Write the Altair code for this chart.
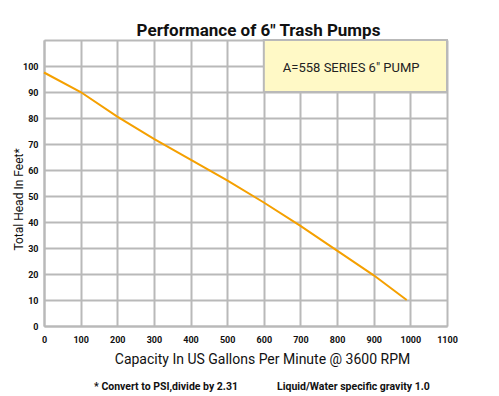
import altair as alt
import pandas as pd

# ---- data ----
gpm = [0, 100, 200, 300, 400, 500, 600, 700, 800, 900, 990]
head = [97.5, 90, 80.5, 72, 64, 56, 47.5, 38.5, 29, 19.5, 10]

x_ticks = list(range(0, 1200, 100))
y_ticks = list(range(0, 120, 10))

legend_x = [600]
legend_x2 = [1100]
legend_y = [90]
legend_y2 = [110]
legend_text = ['A=558 SERIES  6" PUMP']
legend_text_x = [652]
legend_text_y = [99.3]

title_text = 'Performance of 6" Trash Pumps'
x_title = "Capacity In US Gallons Per Minute @ 3600 RPM"
y_title = "Total Head In Feet*"
notes = ["* Convert to PSI,divide by 2.31", "Liquid/Water specific gravity 1.0"]

FONT = "Roboto, Liberation Sans, sans-serif"
GRID = "#b9b9b9"

curve = pd.DataFrame({"gpm": gpm, "head": head})
box = pd.DataFrame({"x": legend_x, "x2": legend_x2, "y": legend_y, "y2": legend_y2,
                    "t": legend_text, "tx": legend_text_x, "ty": legend_text_y})
note_df = pd.DataFrame({"n": [0]})

xscale = alt.Scale(domain=[0, 1100], nice=False, zero=False)
yscale = alt.Scale(domain=[0, 110], nice=False, zero=False)

xaxis = alt.Axis(values=x_ticks, title=x_title, grid=True, ticks=False, format="d",
                 labelFont=FONT, labelFontWeight="bold", labelFontSize=9,
                 labelColor="#111", labelPadding=9,
                 titleFont=FONT, titleFontSize=14, titleFontWeight="normal",
                 titleColor="#111", titleX=218, titleY=26,
                 domainColor=GRID, domainWidth=2, gridColor=GRID, gridWidth=2,
                 gridOpacity=1, labelFlush=False)
yaxis = alt.Axis(values=y_ticks, title=y_title, grid=True, ticks=False, format="d",
                 labelExpr="datum.value > 100 ? '' : datum.label",
                 labelFont=FONT, labelFontWeight="bold", labelFontSize=9,
                 labelColor="#111", labelPadding=6,
                 titleFont=FONT, titleFontSize=12, titleFontWeight="normal",
                 titleColor="#111", titleX=-26, titleY=159, titleAngle=270,
                 titleBaseline="middle",
                 domainColor=GRID, domainWidth=2, gridColor=GRID, gridWidth=2,
                 gridOpacity=1, labelFlush=False)

rect = alt.Chart(box).mark_rect(fill="#fff9c6", stroke=GRID, strokeWidth=2).encode(
    x=alt.X("x:Q", scale=xscale, axis=xaxis), x2="x2:Q",
    y=alt.Y("y:Q", scale=yscale, axis=yaxis), y2="y2:Q",
)

rect_text = alt.Chart(box).mark_text(align="left", baseline="middle", font=FONT,
                                     fontSize=13, color="#222").encode(
    x=alt.X("tx:Q", scale=xscale, axis=xaxis), y=alt.Y("ty:Q", scale=yscale, axis=yaxis),
    text="t:N",
)

line = alt.Chart(curve).mark_line(color="#f5a000", strokeWidth=2).encode(
    x=alt.X("gpm:Q", scale=xscale, axis=xaxis),
    y=alt.Y("head:Q", scale=yscale, axis=yaxis),
)

note1 = alt.Chart(note_df).mark_text(align="center", baseline="middle", font=FONT,
                                     fontSize=10.5, fontWeight="bold", color="#111").encode(
    x=alt.value(122), y=alt.value(347), text=alt.value(notes[0]))
note2 = alt.Chart(note_df).mark_text(align="left", baseline="middle", font=FONT,
                                     fontSize=10.5, fontWeight="bold", color="#111").encode(
    x=alt.value(233), y=alt.value(347), text=alt.value(notes[1]))

chart = alt.layer(rect, rect_text, line, note1, note2).properties(
    width=403, height=286,
    title=alt.TitleParams(title_text, font=FONT, fontSize=17, fontWeight="bold",
                          color="#111", anchor="middle", dx=13, dy=7, offset=6),
    autosize=alt.AutoSizeParams(type="none"),
    padding={"left": 36, "top": 32, "right": 44, "bottom": 68},
).configure_view(stroke=None).configure(background="white")

chart.save("out.html", embed_options={"renderer": "svg", "actions": False})
